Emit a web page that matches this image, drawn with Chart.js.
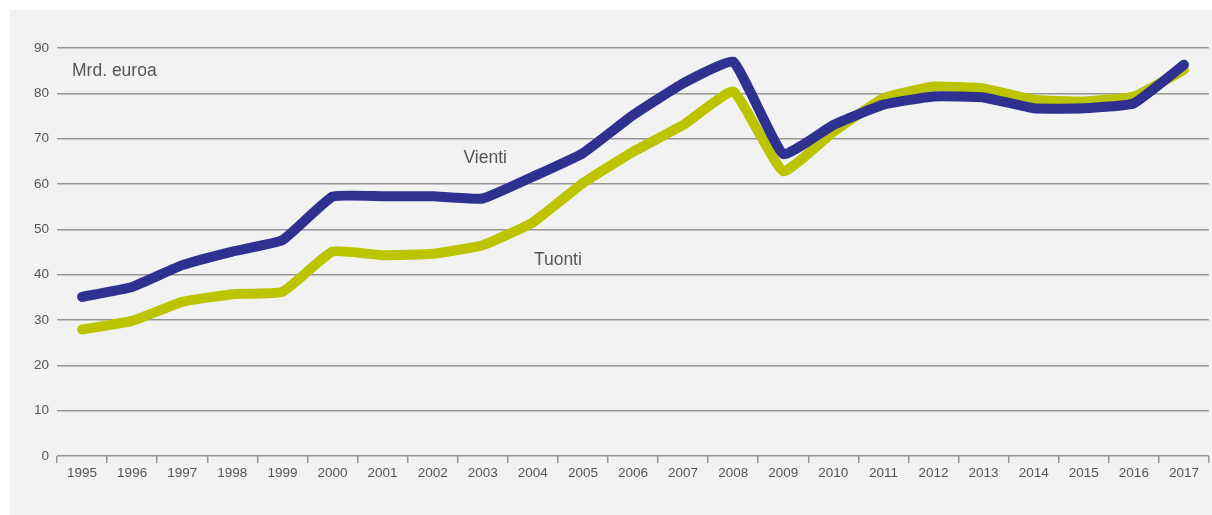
<!DOCTYPE html>
<html>
<head>
<meta charset="utf-8">
<script src="https://cdn.jsdelivr.net/npm/chart.js@4/dist/chart.umd.min.js"></script>
<style>
  html, body { margin: 0; padding: 0; background: #ffffff; width: 1212px; height: 515px; overflow: hidden; }
  #wrap { position: absolute; left: 10px; top: 10px; width: 1202px; height: 505px; background: #f2f2f2; }
  canvas { display: block; }
</style>
</head>
<body>
<div id="wrap"><canvas id="c" width="1202" height="505"></canvas></div>
<script>
const years = ['1995','1996','1997','1998','1999','2000','2001','2002','2003','2004','2005','2006','2007','2008','2009','2010','2011','2012','2013','2014','2015','2016','2017'];
const vienti = [35.1, 37.3, 42.1, 45.1, 47.6, 57.2, 57.3, 57.3, 56.8, 61.6, 66.8, 75.2, 82.2, 87.0, 66.6, 73.0, 77.5, 79.3, 79.1, 76.7, 76.7, 77.8, 86.3];
const tuonti = [27.9, 29.8, 34.0, 35.7, 36.2, 45.1, 44.3, 44.6, 46.5, 51.5, 60.2, 67.1, 73.0, 80.4, 62.8, 71.5, 78.9, 81.5, 81.1, 78.6, 78.2, 79.3, 85.2];
const yTicks = [0, 10, 20, 30, 40, 50, 60, 70, 80, 90];
const seriesNames = ['Vienti', 'Tuonti'];
const unitLabel = 'Mrd. euroa';

const textColor = '#555555';
const gridColor = '#959595';

const labelPlugin = {
  id: 'labels',
  afterDatasetsDraw(chart) {
    const ctx = chart.ctx;
    const x = chart.scales.x, y = chart.scales.y;
    ctx.save();
    ctx.fillStyle = textColor;
    ctx.font = '17.5px "Liberation Sans", Arial, sans-serif';
    ctx.textBaseline = 'middle';
    ctx.textAlign = 'left';
    ctx.fillText(unitLabel, x.getPixelForValue(-0.2), y.getPixelForValue(84.8));
    ctx.textAlign = 'center';
    ctx.fillText(seriesNames[0], x.getPixelForValue(8.05), y.getPixelForValue(65.6));
    ctx.fillText(seriesNames[1], x.getPixelForValue(9.5), y.getPixelForValue(43.2));
    ctx.restore();
  }
};

new Chart(document.getElementById('c'), {
  type: 'line',
  data: {
    labels: years,
    datasets: [
      { label: seriesNames[0], data: vienti, borderColor: '#2e3190', backgroundColor: '#2e3190' },
      { label: seriesNames[1], data: tuonti, borderColor: '#bcc400', backgroundColor: '#bcc400' }
    ]
  },
  options: {
    responsive: false,
    animation: false,
    events: [],
    layout: { padding: { top: 38, right: 3, bottom: 0, left: 0 } },
    elements: {
      line: { borderWidth: 10, tension: 0.12, borderCapStyle: 'round', borderJoinStyle: 'round', fill: false },
      point: { radius: 0, hoverRadius: 0 }
    },
    plugins: { legend: { display: false }, tooltip: { enabled: false } },
    scales: {
      x: {
        offset: true,
        grid: { offset: true, drawOnChartArea: false, drawTicks: true, tickLength: 7, color: gridColor, lineWidth: 1.5 },
        border: { display: false },
        ticks: { color: textColor, font: { family: '"Liberation Sans", Arial, sans-serif', size: 13.5 }, padding: 2, maxRotation: 0, autoSkip: false },
        afterFit(scale) { scale.height = 59; }
      },
      y: {
        min: 0, max: 90,
        afterBuildTicks(scale) { scale.ticks = yTicks.map(v => ({ value: v })); },
        grid: { drawTicks: false, color: gridColor, lineWidth: 1.5 },
        border: { display: false },
        ticks: { color: textColor, font: { family: '"Liberation Sans", Arial, sans-serif', size: 13.5 }, padding: 8 },
        afterFit(scale) { scale.width = 47; }
      }
    }
  },
  plugins: [labelPlugin]
});
</script>
</body>
</html>
